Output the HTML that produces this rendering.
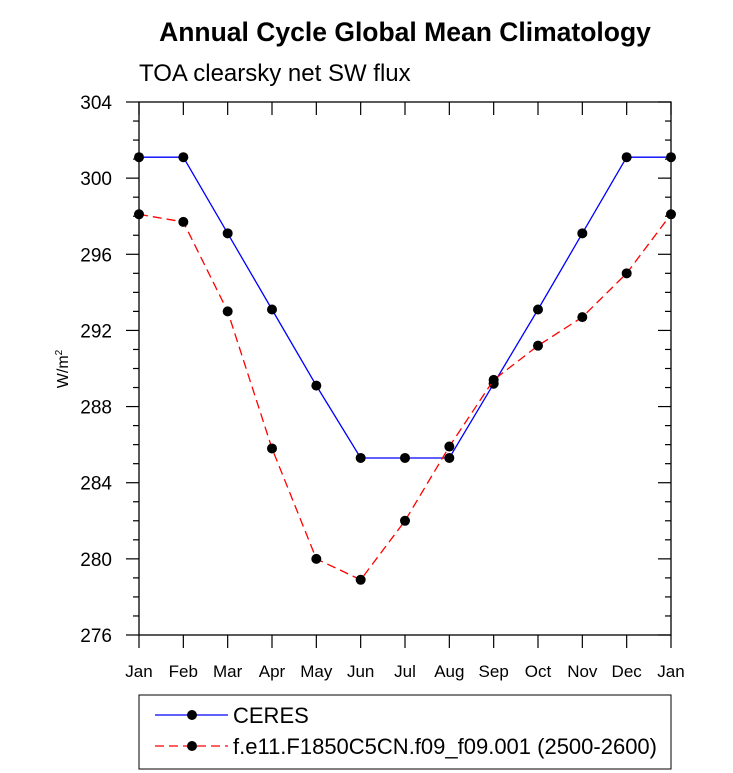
<!DOCTYPE html>
<html><head><meta charset="utf-8"><style>
body{margin:0;background:#fff;}
svg{display:block;font-family:"Liberation Sans",Arial,sans-serif;}
</style></head><body>
<svg id="chart" width="733" height="773" viewBox="0 0 733 773">
<text x="405" y="41" text-anchor="middle" font-size="26.5" font-weight="bold">Annual Cycle Global Mean Climatology</text>
<text x="139" y="81" font-size="24">TOA clearsky net SW flux</text>
<text transform="translate(68,369) rotate(-90)" text-anchor="middle" font-size="16">W/m<tspan dy="-6" font-size="10">2</tspan></text>
<g id="axes"></g>
<g id="series"></g>
<g>
<rect x="139" y="695" width="532" height="74" fill="none" stroke="#000" stroke-width="1"/>
<g>
<line x1="155" y1="715" x2="228" y2="715" stroke="#0000ff" stroke-width="1.3"/>
<circle cx="192" cy="715" r="5" fill="#000"/>
<text x="233" y="723" font-size="22">CERES</text>
</g>
<g>
<line x1="155" y1="746" x2="228" y2="746" stroke="#ff0000" stroke-width="1.3" stroke-dasharray="9,5"/>
<circle cx="192" cy="746" r="5" fill="#000"/>
<text x="233" y="754" font-size="22">f.e11.F1850C5CN.f09_f09.001 (2500-2600)</text>
</g>
</g>
</svg>
<script>
const months = ["Jan","Feb","Mar","Apr","May","Jun","Jul","Aug","Sep","Oct","Nov","Dec","Jan"];
const ceres = [301.1,301.1,297.1,293.1,289.1,285.3,285.3,285.3,289.2,293.1,297.1,301.1,301.1];
const model = [298.1,297.7,293.0,285.8,280.0,278.9,282.0,285.9,289.4,291.2,292.7,295.0,298.1];
const yTicks = [276,280,284,288,292,296,300,304];
const L=139,R=671,T=102,B=635,yMin=276,yMax=304;
const NS="http://www.w3.org/2000/svg";
function xs(i){return L+(R-L)*i/(months.length-1);}
function ys(v){return B-(B-T)*(v-yMin)/(yMax-yMin);}
function mk(tag,attrs,parent){const e=document.createElementNS(NS,tag);for(const k in attrs)e.setAttribute(k,attrs[k]);parent.appendChild(e);return e;}
const ax=document.getElementById('axes');
const frame=mk('rect',{x:L,y:T,width:R-L,height:B-T,fill:'none',stroke:'#000','stroke-width':1.3},ax);


for(let v=yMin;v<=yMax;v++){
  const major=(v-yMin)%4===0;const y=ys(v);const len=major?13:6;
  const t1=mk('line',{x1:L-len,y1:y,x2:L,y2:y,stroke:'#000','stroke-width':1.2},ax);
  
  
  const t2=mk('line',{x1:R,y1:y,x2:R-len,y2:y,stroke:'#000','stroke-width':1.2},ax);
  
  
}
yTicks.forEach(v=>{
  const t=mk('text',{x:112,y:ys(v)+7,'text-anchor':'end','font-size':19},ax);
  t.textContent=v;
  
  
});
months.forEach((m,i)=>{
  const x=xs(i);
  const t1=mk('line',{x1:x,y1:B,x2:x,y2:B+13,stroke:'#000','stroke-width':1.2},ax);
  
  
  const t2=mk('line',{x1:x,y1:T,x2:x,y2:T+13,stroke:'#000','stroke-width':1.2},ax);
  
  
  const t=mk('text',{x:x,y:B+42,'text-anchor':'middle','font-size':17},ax);
  t.textContent=m;
  
  
});
const sg=document.getElementById('series');
function drawSeries(vals,color,dash,name){
  const pts=vals.map((v,i)=>xs(i)+','+ys(v)).join(' ');
  const pl=mk('polyline',{points:pts,fill:'none',stroke:color,'stroke-width':1.3},sg);
  if(dash)pl.setAttribute('stroke-dasharray',dash);
  
  
  vals.forEach((v,i)=>{
    const c=mk('circle',{cx:xs(i),cy:ys(v),r:5,fill:'#000'},sg);
    
    
  });
}
drawSeries(ceres,'#0000ff',null,'ceres');
drawSeries(model,'#ff0000','9,5','model');
</script>
</body></html>
